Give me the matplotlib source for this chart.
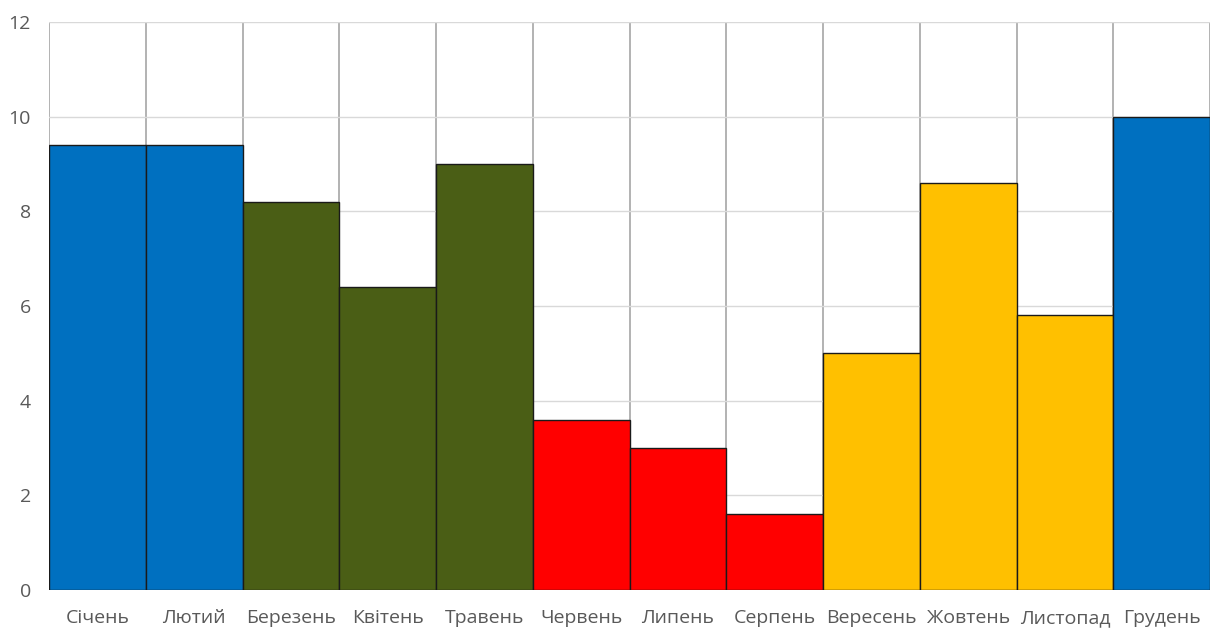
import numpy as np
import matplotlib.pyplot as plt

months = ['Січень', 'Лютий', 'Березень', 'Квітень', 'Травень', 'Червень',
          'Липень', 'Серпень', 'Вересень', 'Жовтень', 'Листопад', 'Грудень']
values = [9.4, 9.4, 8.2, 6.4, 9.0, 3.6, 3.0, 1.6, 5.0, 8.6, 5.8, 10.0]
colors = ['#0070C0', '#0070C0', '#4A5E15', '#4A5E15', '#4A5E15', '#FF0000',
          '#FF0000', '#FF0000', '#FFC000', '#FFC000', '#FFC000', '#0070C0']

plt.rcParams['font.family'] = ['Open Sans', 'DejaVu Sans']

fig = plt.figure(figsize=(12.11, 6.28), dpi=100)
ax = fig.add_axes([49 / 1211, 38 / 628, 1161 / 1211, 568 / 628])

x = np.arange(len(months))
ax.bar(x, values, width=1.0, color=colors, edgecolor='#1a1a1a', linewidth=1.0, zorder=3)

ax.set_xlim(-0.5, len(months) - 0.5)
ax.set_ylim(0, 12)
ax.set_yticks(np.arange(0, 13, 2))
ax.set_xticks(x)
ax.set_xticklabels(months)

# вертикальні лінії між категоріями
ax.set_xticks(np.arange(-0.5, len(months), 1.0), minor=True)
ax.grid(axis='x', which='minor', color='#a6a6a6', linewidth=1.2, zorder=1)
ax.grid(axis='y', which='major', color='#d9d9d9', linewidth=1.0, zorder=1)
ax.grid(axis='x', which='major', visible=False)

for s in ax.spines.values():
    s.set_visible(False)
ax.tick_params(axis='both', which='both', length=0, labelsize=14, labelcolor='#595959')
ax.tick_params(axis='x', pad=14)
ax.tick_params(axis='y', pad=13)

fig.savefig('out.png', dpi=100)
